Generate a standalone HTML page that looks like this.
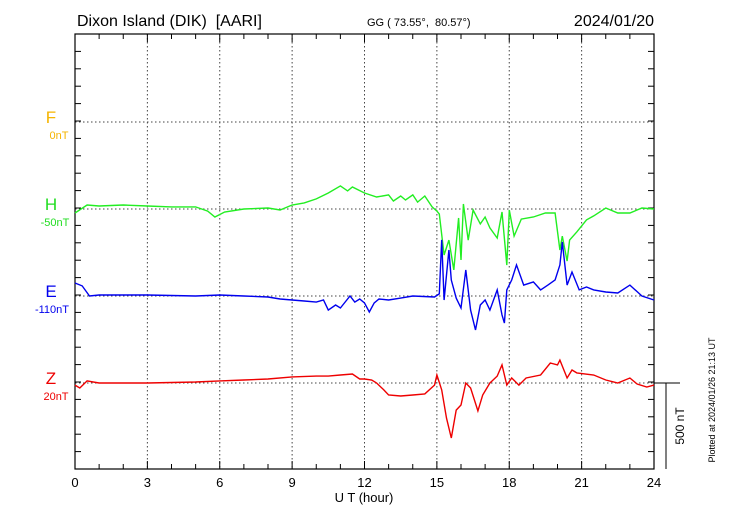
<!DOCTYPE html>
<html><head><meta charset="utf-8"><style>
body{margin:0;background:#fff;}
svg{display:block;font-family:"Liberation Sans",sans-serif;}
</style></head><body>
<svg id="chart" width="730" height="520" viewBox="0 0 730 520">
<text x="77" y="26" font-size="16">Dixon Island (DIK)&#160;&#160;[AARI]</text>
<text x="367" y="26" font-size="11">GG ( 73.55°,&#160;&#160;80.57°)</text>
<text x="654" y="26" font-size="16" text-anchor="end">2024/01/20</text>
<g id="grid"></g>
<g id="axes"></g>
<g id="series"></g>
<text x="51" y="123" font-size="17" fill="#f5b400" text-anchor="middle">F</text>
<text x="59" y="139" font-size="11" fill="#f5b400" text-anchor="middle">0nT</text>
<text x="51" y="210" font-size="17" fill="#22dd22" text-anchor="middle">H</text>
<text x="55" y="226" font-size="11" fill="#22dd22" text-anchor="middle">-50nT</text>
<text x="51" y="297" font-size="17" fill="#0000ee" text-anchor="middle">E</text>
<text x="52" y="313" font-size="11" fill="#0000ee" text-anchor="middle">-110nT</text>
<text x="51" y="384" font-size="17" fill="#ee0000" text-anchor="middle">Z</text>
<text x="56" y="400" font-size="11" fill="#ee0000" text-anchor="middle">20nT</text>
<text x="364" y="502" font-size="13" text-anchor="middle">U T (hour)</text>
<line x1="654" y1="383" x2="680" y2="383" stroke="#000"/>
<line x1="666" y1="383" x2="666" y2="469" stroke="#000"/>
<text transform="translate(684,426) rotate(-90)" font-size="12" text-anchor="middle">500 nT</text>
<text transform="translate(715,400) rotate(-90)" font-size="9" text-anchor="middle">Plotted at 2024/01/26 21:13 UT</text>
</svg>
<script>
const xTicks=[0,3,6,9,12,15,18,21,24];
const hT=[0,0.5,1,2,3,4,5,5.5,5.8,6.2,7,8,8.5,9,9.5,10,10.5,11,11.3,11.5,12,12.5,13,13.2,13.5,13.7,14,14.2,14.5,14.8,15.0,15.1,15.3,15.5,15.7,15.9,16.0,16.1,16.3,16.5,16.8,17.0,17.2,17.5,17.7,17.9,18.0,18.2,18.5,19,19.5,19.9,20.1,20.2,20.4,20.5,20.8,21.2,21.5,22,22.5,23,23.5,24];
const hV=[-23,23,17,23,17,12,12,-12,-46,-17,0,6,-6,23,35,58,92,133,104,127,92,69,81,46,75,52,81,40,75,12,-12,-29,-265,-179,-351,-52,-294,29,-179,-6,-86,-46,-109,-167,-17,-323,-6,-156,-58,-46,-23,-23,-236,-156,-300,-179,-132,-63,-40,6,-23,-23,6,0];
const eT=[0,0.3,0.6,1,3,5,6,7,8,8.5,9,9.5,10,10.3,10.5,10.8,11,11.4,11.6,11.8,12,12.2,12.4,12.6,13,13.5,14,14.9,15.1,15.2,15.3,15.5,15.6,15.8,16,16.2,16.4,16.6,16.8,17.0,17.2,17.5,17.7,17.8,17.9,18.1,18.3,18.6,19,19.3,19.6,19.9,20.1,20.2,20.4,20.6,20.9,21.2,21.5,22,22.5,23,23.5,24];
const eV=[75,58,0,6,6,0,6,0,-6,-17,-23,-29,-35,-23,-81,-52,-69,0,-35,-17,-40,-92,-40,-17,-23,-12,0,-6,12,323,-23,265,92,-12,-69,150,-81,-196,-52,-23,-81,35,-109,-156,35,92,179,63,81,35,63,92,179,311,63,138,35,52,35,23,17,63,0,-23];
const zT=[0,0.2,0.5,1,3,5,6,7,8,9,10,10.5,11,11.5,11.8,12,12.3,12.5,12.8,13,13.5,14,14.5,14.9,15.0,15.2,15.4,15.6,15.8,16,16.2,16.4,16.7,16.9,17.2,17.5,17.7,17.9,18.1,18.4,18.7,19.3,19.7,20.0,20.1,20.4,20.6,20.8,21.5,22,22.5,23,23.3,23.7,24];
const zV=[-12,-29,12,0,0,6,12,17,23,35,40,40,46,52,23,23,17,0,-40,-69,-75,-69,-63,-12,46,-40,-202,-317,-156,-127,0,-29,-161,-69,0,40,104,-12,29,-12,29,46,115,104,132,29,75,58,46,17,0,29,-6,-23,-12];
const X0=75,X1=654,Y0=34,Y1=469,PXN=86.8/500;
const xs=h=>X0+(X1-X0)*h/24;
const ys=(base,v)=>base-v*PXN;
const NS='http://www.w3.org/2000/svg';
function mk(tag,attrs,parent){const e=document.createElementNS(NS,tag);for(const k in attrs)e.setAttribute(k,attrs[k]);parent.appendChild(e);return e;}
const grid=document.getElementById('grid'),axes=document.getElementById('axes'),series=document.getElementById('series');
xTicks.forEach((t,i)=>{
  if(i>0&&i<xTicks.length-1){const l=mk('line',{x1:xs(t),y1:Y0,x2:xs(t),y2:Y1,stroke:'#444','stroke-dasharray':'1.5,2.5'},grid);
  
  }
  const tx=mk('text',{x:xs(t),y:487,'font-size':13,'text-anchor':'middle'},axes);tx.textContent=t;
  
  
});
[122,209,296,383].forEach(b=>{const l=mk('line',{x1:X0,y1:b,x2:X1,y2:b,stroke:'#444','stroke-dasharray':'1.5,2.5'},grid);
  
  });
const fr=mk('rect',{x:X0,y:Y0,width:X1-X0,height:Y1-Y0,fill:'none',stroke:'#000','stroke-width':1.2},axes);


for(let h=1;h<24;h++){const len=h%3===0?8:5;
  mk('line',{x1:xs(h),y1:Y0,x2:xs(h),y2:Y0+len,stroke:'#000'},axes);
  mk('line',{x1:xs(h),y1:Y1,x2:xs(h),y2:Y1-len,stroke:'#000'},axes);}
for(let k=1;k<25;k++){const y=Y0+k*(Y1-Y0)/25;
  mk('line',{x1:X0,y1:y,x2:X0+6,y2:y,stroke:'#000'},axes);
  mk('line',{x1:X1,y1:y,x2:X1-6,y2:y,stroke:'#000'},axes);}
function draw(T,V,base,color,name){
  const d=T.map((t,i)=>(i?'L':'M')+xs(t).toFixed(1)+','+ys(base,V[i]).toFixed(1)).join('');
  const p=mk('path',{d:d,fill:'none',stroke:color,'stroke-width':1.4},series);
  
  
}
draw(hT,hV,209,'#22ee22','h-component-line');
draw(eT,eV,296,'#0000ee','e-component-line');
draw(zT,zV,383,'#ee0000','z-component-line');
</script>
</body></html>
